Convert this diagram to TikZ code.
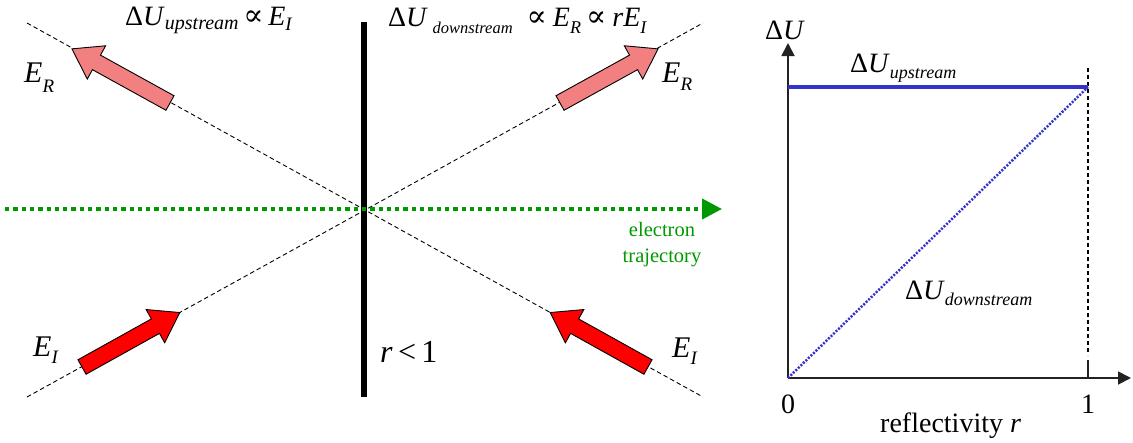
\documentclass[tikz,border=0pt]{standalone}
\usepackage{fontspec}
\setmainfont{Liberation Serif}
\newfontfamily\symf{DejaVu Serif}
\usetikzlibrary{arrows.meta}
\definecolor{pinkfill}{RGB}{242,128,128}
\definecolor{redfill}{RGB}{255,0,0}
\definecolor{trajgreen}{RGB}{0,153,0}
\definecolor{plotblue}{RGB}{51,51,204}
\definecolor{axisgray}{RGB}{34,34,34}
% #1 lowering (px), #2 size, #3 text
\newcommand\sbs[3]{\raisebox{-#1pt}{\fontsize{#2}{#2}\selectfont\itshape #3}}
\newcommand\prp{{\symf\fontsize{30}{30}\selectfont ∝}}
\newcommand\blockarrow[3]{% tail, angle, fill
  \begin{scope}[shift={#1}, rotate=#2]
    \draw[fill=#3, draw=black, line width=0.9pt, line join=miter]
      (0,-8.3) -- (84,-8.3) -- (84,-19) -- (112,0) -- (84,19) -- (84,8.3) -- (0,8.3) -- cycle;
  \end{scope}}
\tikzset{
  lbl/.style={inner sep=0pt, anchor=base west, font=\fontsize{28}{28}\selectfont},
  biglbl/.style={lbl, font=\fontsize{30}{30}\selectfont},
  beam/.style={draw=black, line width=0.9pt, dash pattern=on 4.5pt off 3pt},
  axisline/.style={draw=axisgray, line width=1.8pt, -{Triangle[length=13pt,width=13pt]}},
}
\begin{document}
\begin{tikzpicture}[x=1pt,y=-1pt]
\useasboundingbox[fill=white] (0,0) rectangle (1133,442);
% beams
\coordinate (c) at (365,209);
\coordinate (ul) at (27,23);
\coordinate (ur) at (703,23);
\coordinate (ll) at (27,397);
\coordinate (lr) at (703,397);
\draw[beam] (ul) -- (lr);
\draw[beam] (ll) -- (ur);
% mirror
\coordinate (mt) at (364,22);
\coordinate (mb) at (364,397);
\draw[line width=6.5pt] (mt) -- (mb);
% electron trajectory
\coordinate (ts) at (5,209);
\coordinate (te) at (722,209);
\draw[trajgreen, line width=4pt, dash pattern=on 4.3pt off 4pt,
      -{Triangle[length=20pt,width=20pt]}] (ts) -- (te);
\node[inner sep=0pt, align=center, text=trajgreen, font=\fontsize{20.5}{26}\selectfont]
   (traj) at (662,245) {electron\\trajectory};
% block arrows
\blockarrow{(170,103)}{151.1}{pinkfill}
\blockarrow{(560,103)}{28.9}{pinkfill}
\blockarrow{(82,367)}{29.1}{redfill}
\blockarrow{(648,367)}{150.9}{redfill}
% labels
\node[lbl] (up) at (125,25) {Δ\textit{U}\sbs{4}{20}{upstream}\,\prp\,\textit{E}\sbs{5}{19}{I}};
\node[lbl] (down) at (388,26) {Δ\textit{U}\,\sbs{7}{16.5}{downstream}\hspace{14pt}\prp\hspace{6pt}\textit{E}\sbs{7}{18}{R}\hspace{5pt}\prp\hspace{6pt}\textit{rE}\sbs{7}{18}{I}};
\node[biglbl] (erlt) at (24,82) {\textit{E}\sbs{10}{19}{R}};
\node[biglbl] (errt) at (662,82) {\textit{E}\sbs{8}{19}{R}};
\node[biglbl] (eilt) at (33,356) {\textit{E}\sbs{7}{19}{I}};
\node[biglbl] (eirt) at (672,357) {\textit{E}\sbs{7}{19}{I}};
\node[lbl, font=\fontsize{32}{32}\selectfont] (rlt) at (380,362) {\textit{r}\,<\,1};
% graph
\coordinate (o) at (788,378);
\coordinate (ytop) at (788,43);
\coordinate (xend) at (1131,378);
\coordinate (uend) at (1088,87);
\coordinate (ustart) at (788,87);
\coordinate (vt) at (1088,68);
\coordinate (vb) at (1088,355);
\coordinate (tk) at (1088,360);
\coordinate (tb) at (1088,378);
\draw[axisline] (o) -- (ytop);
\draw[axisline] (o) -- (xend);
\draw[black, line width=1.5pt, dash pattern=on 4pt off 3pt] (vt) -- (vb);
\draw[axisgray, line width=1.5pt] (tk) -- (tb);
\draw[plotblue, line width=3.5pt] (ustart) -- (uend);
\draw[plotblue, line width=2.5pt, dash pattern=on 2pt off 1.5pt] (o) -- (uend);
\node[lbl] (yl) at (765,39) {Δ\textit{U}};
\node[lbl] (ul2) at (850,72) {Δ\textit{U}\sbs{6}{18}{upstream}};
\node[lbl] (dl2) at (905,299) {Δ\textit{U}\sbs{6}{18}{downstream}};
\node[lbl, anchor=base] (zero) at (788,413) {0};
\node[lbl, anchor=base] (one) at (1088,413) {1};
\node[lbl] (refl) at (880,432) {reflectivity \textit{r}};
\end{tikzpicture}
\end{document}
